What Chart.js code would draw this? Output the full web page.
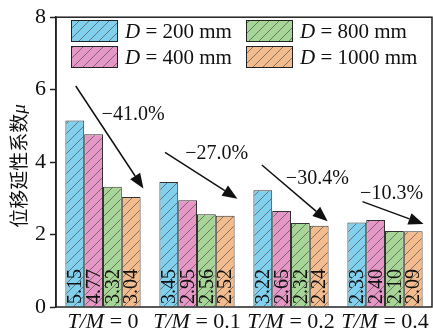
<!DOCTYPE html>
<html>
<head>
<meta charset="utf-8">
<script src="https://cdn.jsdelivr.net/npm/chart.js@4/dist/chart.umd.min.js"></script>
<style>
  html, body { margin: 0; padding: 0; background: #fff; }
  #wrap { width: 433px; height: 336px; }
</style>
</head>
<body>
<div id="wrap"><canvas id="ductChart" width="433" height="336"></canvas></div>
<script>
// categories (T/M ratio) and series (pile diameter D)
const ratios = ['0', '0.1', '0.2', '0.4'];
const diameters = ['200', '400', '800', '1000'];
const mu200 = [5.15, 3.45, 3.22, 2.33];
const mu400 = [4.77, 2.95, 2.65, 2.40];
const mu800 = [3.32, 2.56, 2.32, 2.10];
const mu1000 = [3.04, 2.52, 2.24, 2.09];
const yTicks = [0, 2, 4, 6, 8];
// drop annotations: [x0, y0, x1, y1] in category index / value units
const drops = ['−41.0%', '−27.0%', '−30.4%', '−10.3%'];
const dropArrows = [
  [-0.29, 6.10, 0.43, 3.27],
  [0.66, 4.27, 1.43, 2.99],
  [1.69, 3.92, 2.39, 2.37],
  [2.76, 2.91, 3.41, 2.29]
];
const dropLabelPos = [[0.32, 5.31], [1.21, 4.22], [2.28, 3.54], [3.07, 3.13]];

const fills = ['#80d0ee', '#e597c6', '#a7d597', '#f3bc8f'];
const serif = '"Liberation Serif", "DejaVu Serif", serif';

function hatch(color) {
  const c = document.createElement('canvas');
  c.width = 10; c.height = 10;
  const g = c.getContext('2d');
  g.fillStyle = color;
  g.fillRect(0, 0, 10, 10);
  g.strokeStyle = 'rgba(60,60,60,0.75)';
  g.lineWidth = 0.8;
  g.beginPath();
  g.moveTo(-1, 11); g.lineTo(11, -1);
  g.moveTo(-1, 1); g.lineTo(1, -1);
  g.moveTo(9, 11); g.lineTo(11, 9);
  g.stroke();
  return g.createPattern(c, 'repeat');
}

const seriesData = [mu200, mu400, mu800, mu1000];

const extras = {
  id: 'extras',
  afterDatasetsDraw(chart) {
    const ctx = chart.ctx;
    const a = chart.chartArea;
    const xs = chart.scales.x, ys = chart.scales.y;
    ctx.save();

    // value labels inside bars, rotated
    ctx.font = '20px ' + serif;
    ctx.fillStyle = '#111';
    ctx.textAlign = 'left';
    ctx.textBaseline = 'middle';
    chart.data.datasets.forEach((ds, i) => {
      chart.getDatasetMeta(i).data.forEach((bar, j) => {
        ctx.save();
        ctx.translate(bar.x, a.bottom - 3);
        ctx.rotate(-Math.PI / 2);
        ctx.fillText(ds.data[j].toFixed(2), 0, 1);
        ctx.restore();
      });
    });

    // frame
    ctx.strokeStyle = '#222';
    ctx.lineWidth = 1.5;
    ctx.strokeRect(a.left, a.top, a.right - a.left, a.bottom - a.top);

    // arrows
    ctx.fillStyle = '#111';
    ctx.strokeStyle = '#111';
    ctx.lineWidth = 1.5;
    dropArrows.forEach(d => {
      const x0 = xs.getPixelForValue(d[0]), y0 = ys.getPixelForValue(d[1]);
      const x1 = xs.getPixelForValue(d[2]), y1 = ys.getPixelForValue(d[3]);
      const ang = Math.atan2(y1 - y0, x1 - x0);
      const L = 15, W = 6;
      const bx = x1 - L * Math.cos(ang), by = y1 - L * Math.sin(ang);
      ctx.beginPath();
      ctx.moveTo(x0, y0); ctx.lineTo(bx, by);
      ctx.stroke();
      ctx.beginPath();
      ctx.moveTo(x1, y1);
      ctx.lineTo(bx + W * Math.sin(ang), by - W * Math.cos(ang));
      ctx.lineTo(bx - W * Math.sin(ang), by + W * Math.cos(ang));
      ctx.closePath();
      ctx.fill();
    });
    ctx.font = '20px ' + serif;
    ctx.textAlign = 'center';
    ctx.textBaseline = 'middle';
    drops.forEach((t, i) => {
      const p = dropLabelPos[i];
      ctx.fillText(t, xs.getPixelForValue(p[0]), ys.getPixelForValue(p[1]));
    });

    // x category labels with italic T/M
    ctx.textBaseline = 'alphabetic';
    ctx.textAlign = 'left';
    ratios.forEach((r, i) => {
      const cx = xs.getPixelForValue(i);
      ctx.font = 'italic 22px ' + serif;
      const p1 = 'T/M';
      const w1 = ctx.measureText(p1).width;
      ctx.font = '22px ' + serif;
      const p2 = ' = ' + r;
      const w2 = ctx.measureText(p2).width;
      let x = cx - (w1 + w2) / 2;
      ctx.font = 'italic 22px ' + serif;
      ctx.fillText(p1, x, 328);
      ctx.font = '22px ' + serif;
      ctx.fillText(p2, x + w1, 328);
    });

    // y title
    ctx.save();
    ctx.translate(19, 166);
    ctx.rotate(-Math.PI / 2);
    ctx.font = '19px "Noto Sans CJK SC"';
    const t1 = '位移延性系数';
    const tw = ctx.measureText(t1).width;
    ctx.font = 'italic 19px ' + serif;
    const tm = ctx.measureText('μ').width;
    ctx.textBaseline = 'middle';
    ctx.font = '19px "Noto Sans CJK SC"';
    ctx.fillText(t1, -(tw + tm) / 2, 0);
    ctx.font = 'italic 19px ' + serif;
    ctx.fillText('μ', -(tw + tm) / 2 + tw, 1);
    ctx.restore();

    // legend in two columns
    const cols = [[71, 0], [71, 1], [246, 0], [246, 1]];
    chart.data.datasets.forEach((ds, i) => {
      const lx = cols[i][0];
      const ly = cols[i][1] === 0 ? 20 : 46;
      ctx.fillStyle = ds.backgroundColor;
      ctx.fillRect(lx, ly, 47, 22);
      ctx.strokeStyle = '#222';
      ctx.lineWidth = 1;
      ctx.strokeRect(lx + 0.5, ly + 0.5, 46, 21);
      ctx.fillStyle = '#111';
      ctx.textBaseline = 'middle';
      ctx.font = 'italic 21px ' + serif;
      ctx.fillText('D', lx + 54, ly + 12);
      const wd = ctx.measureText('D').width;
      ctx.font = '21px ' + serif;
      ctx.fillText(' = ' + diameters[i] + ' mm', lx + 54 + wd, ly + 12);
    });

    ctx.restore();
  }
};

const ctx = document.getElementById('ductChart').getContext('2d');
new Chart(ctx, {
  type: 'bar',
  data: {
    labels: ratios,
    datasets: diameters.map((d, i) => ({
      label: 'D = ' + d + ' mm',
      data: seriesData[i],
      backgroundColor: hatch(fills[i]),
      borderColor: '#333',
      borderWidth: 1,
      borderSkipped: 'bottom',
      barPercentage: 1,
      categoryPercentage: 0.8
    }))
  },
  options: {
    responsive: false,
    animation: false,
    devicePixelRatio: 1,
    layout: { padding: { top: 13, right: 1, left: 0, bottom: 0 } },
    plugins: { legend: { display: false }, tooltip: { enabled: false } },
    scales: {
      x: {
        afterFit: s => { s.height = 29; },
        grid: { display: false, drawTicks: false },
        border: { display: false },
        ticks: { display: false }
      },
      y: {
        min: 0,
        max: 8,
        afterFit: s => { s.width = 56; },
        afterBuildTicks: s => { s.ticks = yTicks.map(v => ({ value: v })); },
        grid: { drawOnChartArea: false, tickLength: 6, tickColor: '#222', tickWidth: 1.5 },
        border: { display: true, color: '#222', width: 1.5 },
        ticks: {
          padding: 4,
          color: '#111',
          font: { family: serif, size: 22 }
        }
      }
    }
  },
  plugins: [extras]
});
</script>
</body>
</html>
